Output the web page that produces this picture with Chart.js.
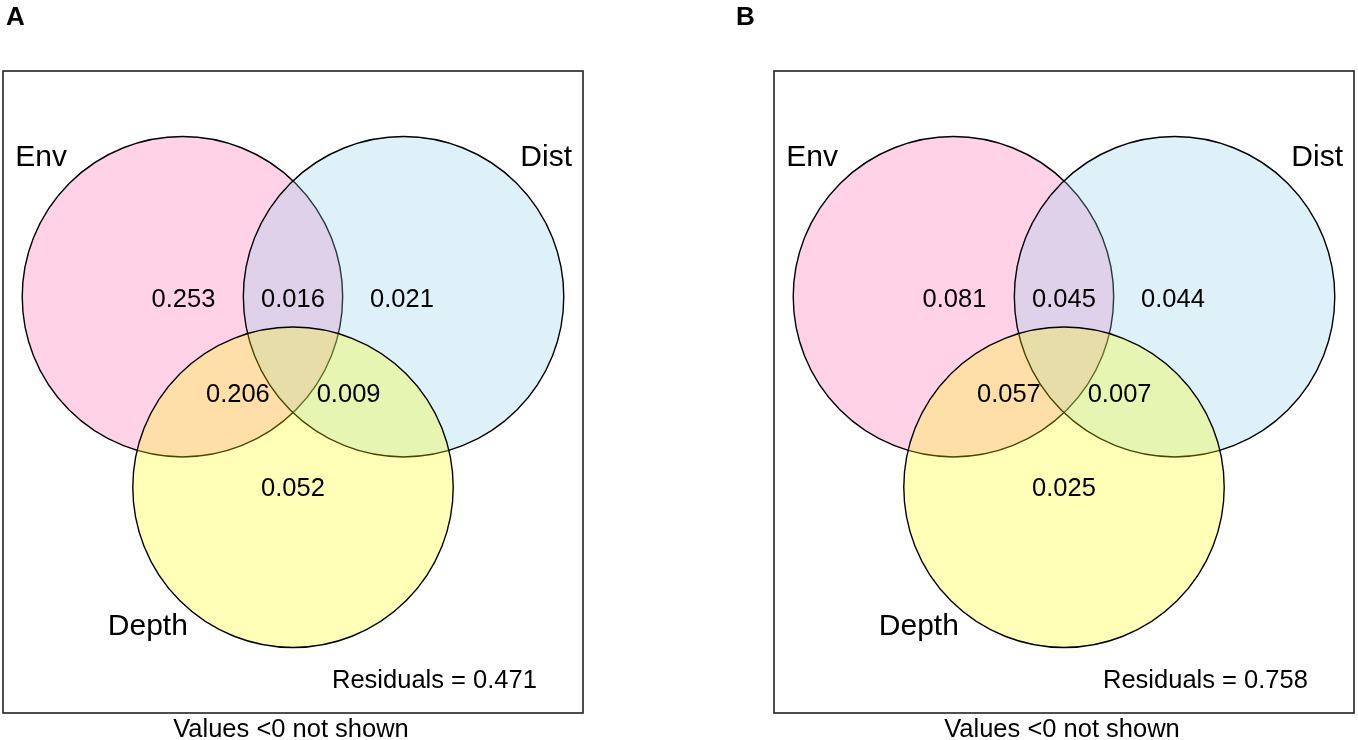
<!DOCTYPE html>
<html lang="en">
<head>
<meta charset="UTF-8">
<title>Variation partitioning</title>
<script src="https://cdn.jsdelivr.net/npm/chart.js@4.4.1/dist/chart.umd.min.js"></script>
<style>
  html, body { margin: 0; padding: 0; background: #fff; overflow: hidden; }
  .panel { position: absolute; top: 0; width: 679px; height: 740px; }
  #panelA { left: 0; }
  #panelB { left: 679px; }
</style>
</head>
<body>
<div class="panel" id="panelA"><canvas id="chartA"></canvas></div>
<div class="panel" id="panelB"><canvas id="chartB"></canvas></div>
<script>
// the three explanatory sets (circle radius = 1 plot unit)
const setNames = ['Env', 'Dist', 'Depth'];
const setX = [-0.69, 0.69, 0];
const setY = [0.595, 0.595, -0.595];
const setRadius = 1;
const setColors = ['rgba(255,105,180,0.3)', 'rgba(135,206,235,0.28)', 'rgba(255,255,0,0.28)'];

// fractions: Env only, Env&Dist, Dist only, Env&Depth, Dist&Depth, Depth only
const partNames = ['a', 'ab', 'b', 'ac', 'bc', 'c'];
const valuesA = [0.253, 0.016, 0.021, 0.206, 0.009, 0.052];
const valuesB = [0.081, 0.045, 0.044, 0.057, 0.007, 0.025];
const residualsA = 0.471;
const residualsB = 0.758;

// where the texts sit, in plot units
const partX = [-0.684, 0, 0.68, -0.344, 0.347, 0];
const partY = [0.533, 0.533, 0.533, -0.061, -0.061, -0.647];
const labelX = [-1.572, 1.58, -0.906];
const labelY = [1.4125, 1.4125, -1.519];

const FONT = '"Liberation Sans", Arial, Helvetica, sans-serif';

const vennText = {
  id: 'vennText',
  afterDatasetsDraw(chart, args, opts) {
    const { ctx, chartArea: area } = chart;
    const x = chart.scales.x, y = chart.scales.y;
    ctx.save();
    // plot frame
    ctx.strokeStyle = '#222';
    ctx.lineWidth = 1.6;
    ctx.strokeRect(area.left, area.top, area.width, area.height);

    ctx.fillStyle = '#000';
    ctx.textAlign = 'center';
    ctx.textBaseline = 'alphabetic';
    ctx.font = '30px ' + FONT;
    setNames.forEach((n, i) => {
      ctx.fillText(n, x.getPixelForValue(labelX[i]), y.getPixelForValue(labelY[i]));
    });

    ctx.font = '25.5px ' + FONT;
    opts.values.forEach((v, i) => {
      if (v < 0) return;
      ctx.fillText(v.toFixed(3), x.getPixelForValue(partX[i]), y.getPixelForValue(partY[i]));
    });

    ctx.textAlign = 'right';
    ctx.fillText('Residuals = ' + opts.residuals.toFixed(3), x.getPixelForValue(1.522), y.getPixelForValue(-1.85));

    ctx.textAlign = 'center';
    ctx.fillText('Values <0 not shown', (area.left + area.right) / 2 - 2, area.bottom + 24);

    ctx.textAlign = 'left';
    ctx.font = 'bold 26px ' + FONT;
    ctx.fillText(opts.letter, opts.letterX, 25);
    ctx.restore();
  }
};

function makeVenn(canvasId, values, residuals, letter, letterX, padding) {
  return new Chart(document.getElementById(canvasId), {
    type: 'scatter',
    data: {
      datasets: [{
        data: setX.map((v, i) => ({ x: v, y: setY[i] })),
        backgroundColor: setColors,
        borderColor: '#000',
        borderWidth: 1.4,
        pointRadius: ctx => {
          const s = ctx.chart.scales.x;
          const r = Math.abs(s.getPixelForValue(setRadius) - s.getPixelForValue(0));
          return isFinite(r) ? r : 160;
        }
      }]
    },
    options: {
      responsive: true,
      maintainAspectRatio: false,
      animation: false,
      events: [],
      layout: { padding: padding, autoPadding: false },
      scales: {
        x: { type: 'linear', min: -1.81, max: 1.81, display: false },
        y: { type: 'linear', min: -2.005, max: 2.005, display: false }
      },
      plugins: {
        legend: { display: false },
        tooltip: { enabled: false },
        vennText: { values: values, residuals: residuals, letter: letter, letterX: letterX }
      }
    },
    plugins: [vennText]
  });
}

makeVenn('chartA', valuesA, residualsA, 'A', 6, { left: 3, top: 71, right: 96, bottom: 27 });
makeVenn('chartB', valuesB, residualsB, 'B', 57, { left: 95, top: 71, right: 4, bottom: 27 });
</script>
</body>
</html>
